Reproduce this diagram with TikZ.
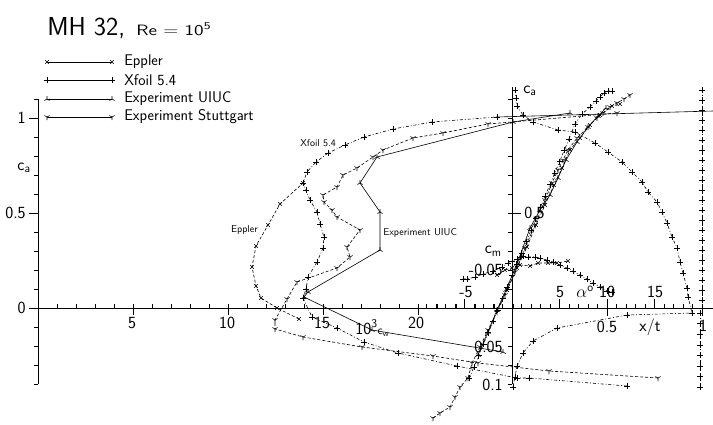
\documentclass[tikz,border=0pt]{standalone}
\usepackage{fontspec}
\usetikzlibrary{plotmarks}

\newcommand{\plotfont}[1]{\sffamily\fontsize{#1}{#1}\selectfont}

\begin{document}
\begin{tikzpicture}
  [
    x=1pt, y=-1pt, line width=0.6pt,
    eppler/.style={dash pattern=on 3pt off 2pt, mark=x, mark size=2.5pt, mark options={solid}},
    xfoil/.style={dash pattern=on 3pt off 2pt on 0.8pt off 2pt, mark=+, mark size=3pt, mark options={solid}},
    uiuc/.style={mark=Mercedes star, mark size=3pt},
    stuttgart/.style={dash pattern=on 3pt off 2pt, mark=Mercedes star flipped, mark size=3pt, mark options={solid}},
    ticklabel/.style={font=\plotfont{17}, inner sep=0pt},
    curvelabel/.style={font=\plotfont{10}, inner sep=0pt}
  ]
  \useasboundingbox (0,0) rectangle (713,424);

  % title and legend
  \node[anchor=base west, font=\plotfont{26}, inner sep=0pt] (title) at (47,35) {MH 32,};
  \node[anchor=base west, font=\plotfont{15}, inner sep=0pt] (reynolds) at (136,35) {\scalebox{1.3}[1]{Re = 10\textsuperscript{5}}};
  \draw[eppler, solid] plot coordinates {(47,62) (112,62)};
  \draw[xfoil, solid] plot coordinates {(47,80) (112,80)};
  \draw[uiuc] plot coordinates {(47,99) (112,99)};
  \draw[stuttgart, solid] plot coordinates {(47,117) (112,117)};
  \node[anchor=west, font=\plotfont{15.5}, inner sep=0pt] (legEppler) at (124,62) {Eppler};
  \node[anchor=west, font=\plotfont{15.5}, inner sep=0pt] (legXfoil) at (124,80) {Xfoil 5.4};
  \node[anchor=west, font=\plotfont{15.5}, inner sep=0pt] (legUiuc) at (124,99) {Experiment UIUC};
  \node[anchor=west, font=\plotfont{15.5}, inner sep=0pt] (legStuttgart) at (124,117) {Experiment Stuttgart};

  % polar axes
  \draw (38,308) -- (713,308);
  \draw (38,99) -- (38,384);
  \foreach \y in {99,118,...,384} \draw (38,\y) -- (34,\y);
  \foreach \y in {118,213,308} \draw (38,\y) -- (29,\y);
  \foreach \x in {38,57,...,513} \draw (\x,308) -- (\x,304);
  \foreach \x in {133,228,323,418} \draw (\x,308) -- (\x,315);
  \node[ticklabel, anchor=east] (clOne) at (26,118) {1};
  \node[ticklabel, anchor=east] (clHalf) at (26,213) {0.5};
  \node[ticklabel, anchor=east] (clZero) at (26,308) {0};
  \node[ticklabel] (clName) at (24,168) {c\textsubscript{a}};
  \node[ticklabel] (cdFive) at (132,323) {5};
  \node[ticklabel] (cdTen) at (227,323) {10};
  \node[ticklabel] (cdFifteen) at (322,323) {15};
  \node[ticklabel] (cdTwenty) at (416,323) {20};
  \node[ticklabel, anchor=west] (cdName) at (355,328) {10\textsuperscript{3}\plotfont{12}c\textsubscript{w}};

  % alpha, cm and x/t axes
  \draw (512,87) -- (512,384);
  \foreach \y in {99,118,...,384} \draw (512,\y) -- (508,\y);
  \draw (512,213) -- (521,213);
  \foreach \a in {-9,...,20} \draw ({512+9.5*\a},308) -- ++(0,-4);
  \foreach \a in {-5,5,10,15} \draw ({512+9.5*\a},308) -- ++(0,-9);
  \foreach \x in {607,702} \draw (\x,308) -- (\x,316);
  \node[ticklabel, anchor=west] (caName) at (523,91) {c\textsubscript{a}};
  \node[ticklabel, anchor=west] (caHalf) at (524,213) {0.5};
  \node[ticklabel, anchor=east] (cmName) at (502,251) {c\textsubscript{m}};
  \node[ticklabel, anchor=east] (cmNeg) at (503,270) {-0.05};
  \node[ticklabel, anchor=east] (cmPos) at (503,347) {0.05};
  \node[ticklabel, anchor=east] (cmTenth) at (503,385) {0.1};
  \node[ticklabel] (alNegFive) at (466,292) {-5};
  \node[ticklabel] (alFive) at (560,292) {5};
  \node[ticklabel] (alName) at (585,292) {$\alpha$\textsuperscript{o}};
  \node[ticklabel] (alTen) at (607,292) {10};
  \node[ticklabel] (alFifteen) at (655,292) {15};
  \node[ticklabel] (xtHalf) at (607,327) {0.5};
  \node[ticklabel] (xtName) at (650,327) {x/t};
  \node[ticklabel] (xtOne) at (703,326) {1};

  % curve labels
  \node[curvelabel, anchor=west] (nameXfoil) at (300,143) {Xfoil 5.4};
  \node[curvelabel, anchor=east] (nameEppler) at (258,230) {Eppler};
  \node[curvelabel, anchor=west] (nameUiuc) at (383,233) {Experiment UIUC};

  % polars
  \draw[eppler] plot coordinates {(299,319) (277,308) (261,298) (256,286) (252,267) (256,246) (268,225) (280,204) (303,183)};
  \draw[xfoil] plot coordinates {(627,386) (529,378) (517,378) (457,366) (398,353) (364,342) (337,328) (312,317) (303,298) (306,289) (308,277) (317,262) (323,248) (324,237) (320,224) (317,212) (310,200) (306,190) (303,183) (307,172) (316,162) (328,153) (345,145) (364,137) (393,129) (432,122) (497,117)};
  \draw (497,117) -- (713,111);
  \draw[uiuc] plot coordinates {(503,352) (372,330) (304,297) (308,292) (380,250) (380,212) (360,183) (377,157) (513,122) (570,113)};
  \draw[stuttgart] plot coordinates {(658,378) (549,371) (478,363) (433,356) (362,347) (303,337) (275,329) (275,320) (287,299) (297,282) (337,268) (350,257) (347,247) (360,230) (337,217) (332,210) (324,202) (323,195) (337,187) (343,175) (357,168) (373,157) (383,150) (413,138) (443,133) (488,124) (617,113)};

  % lift over alpha
  \draw[xfoil] plot[domain=-4.5:6, samples=22] ({512+9.5*\x},{275.7-22.8*\x});
  \draw[xfoil] plot coordinates {(569,139) (575,124) (582,114) (590,107) (596,101) (600,97) (604,93) (608,91) (612,91)};
  \draw[eppler] plot coordinates {(497,310) (507,290) (517,268) (527,247) (536,225) (545,205) (554,185) (562,168) (570,150) (580,138) (590,125) (600,115) (612,106) (620,104)};
  \draw[uiuc] plot coordinates {(478,355) (488,332) (497,310) (506,290) (517,264) (530,228) (540,210) (550,195) (558,178) (566,160) (577,142) (588,127) (598,116) (606,108)};
  \draw[stuttgart] plot coordinates {(433,418) (440,413) (450,407) (455,397) (460,387) (468,378) (472,363) (480,347) (488,330) (497,312) (505,295) (515,272) (525,248) (535,225) (545,200) (552,183) (558,170) (563,160) (568,150) (577,138) (588,127) (597,118) (603,113) (610,107) (617,103) (624,99) (630,95)};

  % moment over alpha
  \draw[xfoil] plot coordinates {(463,279) (467,279) (475,277) (483,274) (493,271) (502,267) (508,263) (512,261) (517,259) (520,257) (523,256) (528,257) (535,257) (540,258) (547,260) (553,262) (560,265) (567,268) (573,271) (580,275) (587,279) (593,283) (600,287) (607,291) (612,292)};
  \draw[eppler] plot coordinates {(497,275) (505,270) (512,268) (520,265) (530,266) (538,263) (548,263) (557,263) (568,261)};

  % transition x/t
  \draw[xfoil] plot coordinates {(515,90) (516,98) (517,106) (523,115) (533,122) (558,130) (575,132) (595,143) (608,152) (622,162) (632,172) (642,182) (648,192) (657,202) (662,212) (667,223) (672,237) (677,248) (680,262) (683,273) (687,288) (688,297) (692,313) (627,315) (557,328) (533,341) (523,353) (517,366) (515,377) (513,387)};
  \draw[xfoil] plot[domain=0:21, samples=22] (702,{90+10*\x});
  \draw[xfoil] plot[domain=0:7, samples=8] (700,{313+10.6*\x});
\end{tikzpicture}
\end{document}
